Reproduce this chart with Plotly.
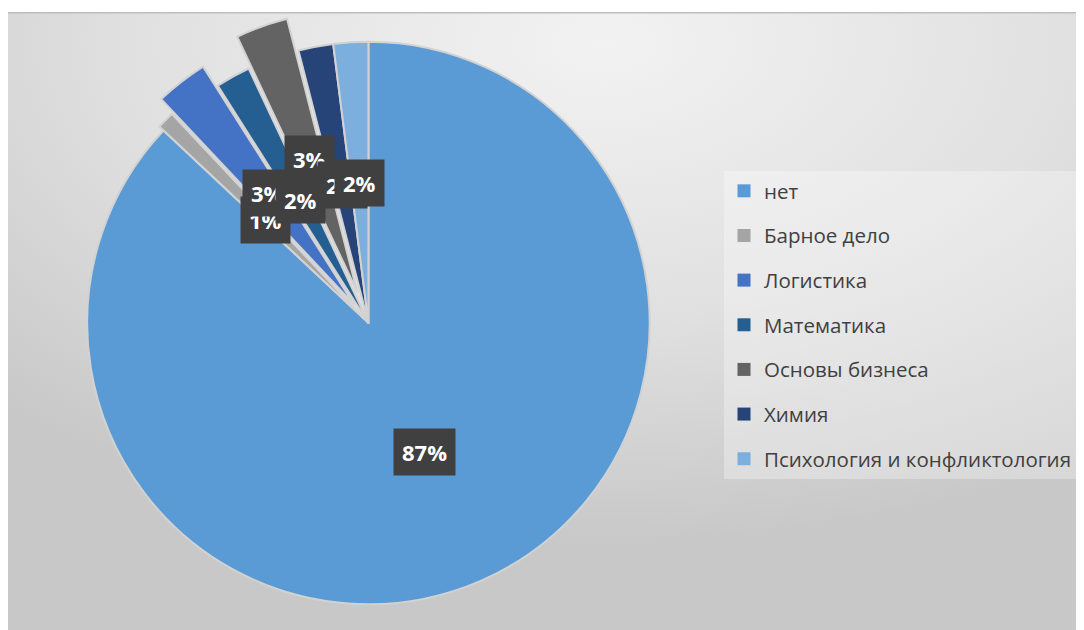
import math
import base64
import plotly.graph_objects as go

# ---------------- data ----------------
labels = ["нет", "Барное дело", "Логистика", "Математика",
          "Основы бизнеса", "Химия", "Психология и конфликтология"]
values = [87, 1, 3, 2, 3, 2, 2]
pct_labels = ["87%", "1%", "3%", "2%", "3%", "2%", "2%"]
pulls = [0, 0.02, 0.085, 0, 0.12, 0, 0]
colors = ["#5B9BD5", "#A5A5A5", "#4472C4", "#255E91",
          "#636363", "#264478", "#7CAFDD"]

W, H = 1084, 630
dom_x = [0.0, 0.665]
dom_y = [0.0, 1.0]

fig = go.Figure()
fig.add_trace(go.Pie(
    labels=labels, values=values, pull=pulls, sort=False,
    direction="clockwise", rotation=0,
    marker=dict(colors=colors, line=dict(color="#d2d2d2", width=2)),
    textinfo="none", hoverinfo="label+percent", showlegend=False,
    domain=dict(x=dom_x, y=dom_y),
))

# legend entries (one group per category to get Excel-like spacing)
for lab, col in zip(labels, colors):
    fig.add_trace(go.Scatter(
        x=[None], y=[None], mode="markers", name=lab, legendgroup=lab,
        marker=dict(symbol="square", size=13, color=col),
        showlegend=True, hoverinfo="skip",
    ))

# data labels placed along each slice bisector (derived from values)
boxW = W * (dom_x[1] - dom_x[0])
boxH = H * (dom_y[1] - dom_y[0])
r = min(boxW, boxH) / (2 + 2 * max(pulls))
cx = W * (dom_x[0] + dom_x[1]) / 2
cy = H * (1 - dom_y[0]) - boxH / 2
total = sum(values)
annotations = []
start = 0.0
for v, p, txt in zip(values, pulls, pct_labels):
    span = 360.0 * v / total
    mid = math.radians(start + span / 2)
    d = r * (0.5 + p)
    px = cx + d * math.sin(mid)
    py = cy - d * math.cos(mid)
    annotations.append(dict(
        x=px / W, y=1 - py / H, xref="paper", yref="paper",
        xanchor="center", yanchor="middle",
        text="<b>" + txt + "</b>", showarrow=False,
        font=dict(family="Open Sans", size=22, color="white"),
        bgcolor="#404040", borderpad=8,
    ))
    start += span

svg = (
    '<svg xmlns="http://www.w3.org/2000/svg" width="1084" height="626" '
    'viewBox="0 0 1084 626" preserveAspectRatio="none">'
    '<defs><radialGradient id="g" cx="0.55" cy="0.05" r="0.8">'
    '<stop offset="0" stop-color="#f2f2f2"/>'
    '<stop offset="0.55" stop-color="#e0e0e0"/>'
    '<stop offset="1" stop-color="#c8c8c8"/>'
    '</radialGradient></defs>'
    '<rect width="1084" height="626" fill="url(#g)"/>'
    '<line x1="0" y1="0.75" x2="1084" y2="0.75" stroke="#bdbdbd" stroke-width="1.5"/>'
    '</svg>'
)
bg_src = "data:image/svg+xml;base64," + base64.b64encode(svg.encode("utf-8")).decode()

fig.update_layout(
    width=W, height=H, autosize=False,
    margin=dict(l=0, r=0, t=0, b=0),
    paper_bgcolor="white", plot_bgcolor="rgba(0,0,0,0)",
    xaxis=dict(visible=False), yaxis=dict(visible=False),
    images=[dict(source=bg_src, xref="paper", yref="paper",
                 x=0, y=1 - 4 / H, sizex=1, sizey=626 / H,
                 xanchor="left", yanchor="top", sizing="stretch", layer="below")],
    legend=dict(
        x=716 / W, y=1 - 163 / H, xanchor="left", yanchor="top",
        bgcolor="rgba(255,255,255,0.3)", borderwidth=0,
        font=dict(family="Open Sans", size=20.5, color="#404040"),
        tracegroupgap=15, itemclick=False, itemdoubleclick=False,
    ),
    annotations=annotations,
    showlegend=True,
)

fig.write_html("out.html")
